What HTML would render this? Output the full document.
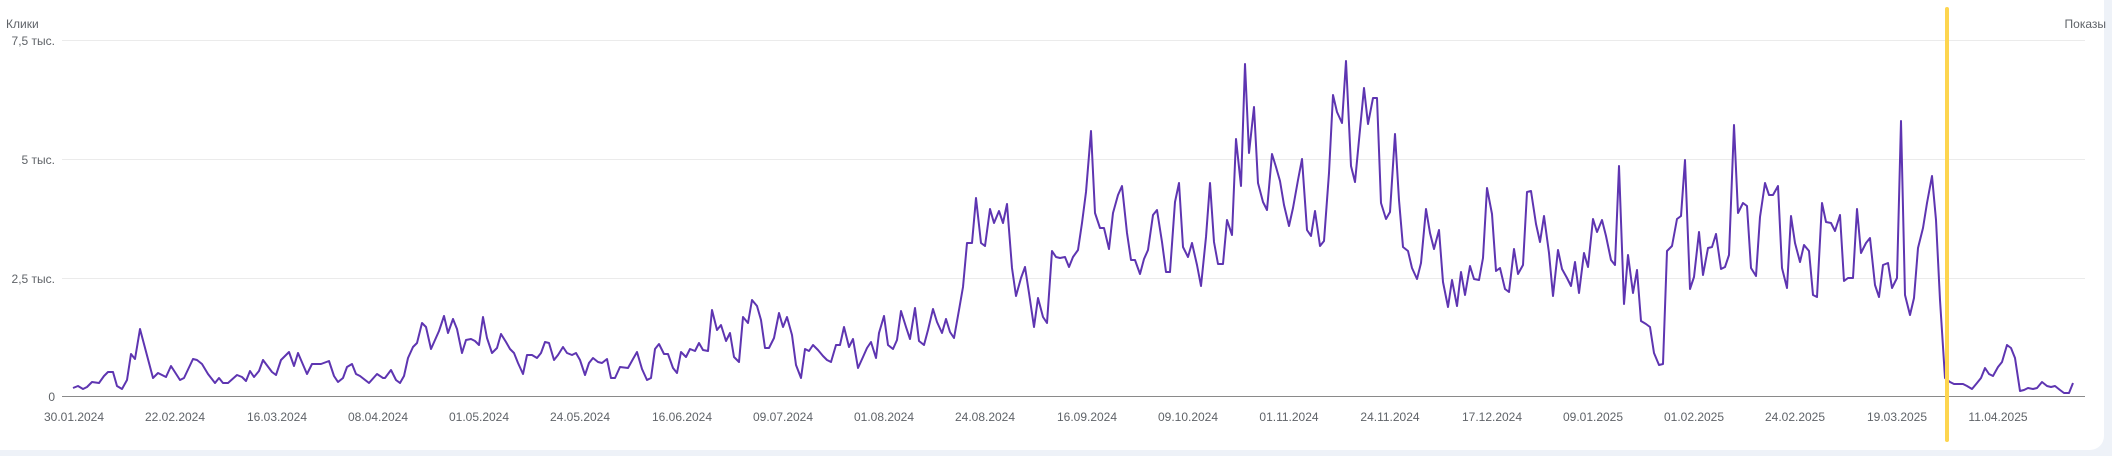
<!DOCTYPE html>
<html><head><meta charset="utf-8"><style>
html,body{margin:0;padding:0;width:2112px;height:456px;overflow:hidden;background:#eef2f8;}
.card{position:absolute;left:0;top:0;width:2104px;height:450px;background:#fff;border-radius:0 0 14px 0;}
svg{position:absolute;left:0;top:0;}
text{font-family:"Liberation Sans",sans-serif;font-size:12px;fill:#5f6368;}
</style></head><body>
<div class="card"></div>
<svg width="2112" height="456" viewBox="0 0 2112 456">
<g stroke="#ebebeb" stroke-width="1">
<line x1="62" x2="2085" y1="40.5" y2="40.5"/>
<line x1="62" x2="2085" y1="159.5" y2="159.5"/>
<line x1="62" x2="2085" y1="278.5" y2="278.5"/>
</g>
<line x1="62" x2="2085" y1="396.5" y2="396.5" stroke="#8a8a8a" stroke-width="1"/>
<text x="6" y="28">Клики</text>
<text x="2106" y="28" text-anchor="end">Показы</text>
<g text-anchor="end">
<text x="55" y="45">7,5 тыс.</text>
<text x="55" y="164">5 тыс.</text>
<text x="55" y="283">2,5 тыс.</text>
<text x="55" y="401">0</text>
</g>
<g text-anchor="middle">
<text x="74" y="421">30.01.2024</text>
<text x="175" y="421">22.02.2024</text>
<text x="277" y="421">16.03.2024</text>
<text x="378" y="421">08.04.2024</text>
<text x="479" y="421">01.05.2024</text>
<text x="580" y="421">24.05.2024</text>
<text x="682" y="421">16.06.2024</text>
<text x="783" y="421">09.07.2024</text>
<text x="884" y="421">01.08.2024</text>
<text x="985" y="421">24.08.2024</text>
<text x="1087" y="421">16.09.2024</text>
<text x="1188" y="421">09.10.2024</text>
<text x="1289" y="421">01.11.2024</text>
<text x="1390" y="421">24.11.2024</text>
<text x="1492" y="421">17.12.2024</text>
<text x="1593" y="421">09.01.2025</text>
<text x="1694" y="421">01.02.2025</text>
<text x="1795" y="421">24.02.2025</text>
<text x="1897" y="421">19.03.2025</text>
<text x="1998" y="421">11.04.2025</text>
</g>
<polyline fill="none" stroke="#5e35b1" stroke-width="2" stroke-linejoin="round" points="
73,388 78,386 83,389 87,387 92,382 99,383 104,376 108,372 113,372 117,386 122,389 127,380 131,354 135,359 140,329 153,378 158,373 166,377 171,366 180,380 184,378 193,359 197,360 202,364 208,374 215,383 219,378 223,383 228,383 237,375 242,377 246,381 250,371 254,377 259,371 263,360 272,372 276,375 281,360 289,352 294,366 298,353 307,374 312,364 321,364 329,361 334,376 338,382 343,378 347,367 352,364 356,374 360,376 369,383 377,374 383,378
385,378 391,370 396,380 400,383 404,376 408,358 413,347 417,343 422,323 426,327 431,349 435,340 439,331 444,316 448,333 453,319 457,329 462,353 466,340 471,339 475,341 479,345 483,317 487,338 492,353 497,348 501,334 506,342 510,349 514,353 518,363 523,374 527,355 532,355 537,358 541,353 545,342 549,343 554,360 558,355 563,347 567,353 572,355 576,353 580,360 585,375 589,363 593,358 598,362 602,363 607,359 611,378 615,378 620,367 628,368 633,359 637,352 642,369 647,380 651,378 655,349 659,344 664,354 668,354 673,368 677,373 681,352 686,357 690,349 695,351 699,343 703,350 708,351 712,310 717,330 721,325 726,341 730,333 734,357 739,362 743,317 748,323 752,300 757,306 761,320 765,348 769,348 774,338 779,313
783,327 787,317 792,335 796,365 801,378 805,349 809,351 813,345 818,350 823,356 827,360 831,362 836,345 840,345 844,327 849,347 853,339 858,368 863,357 867,348 871,342 876,358 879,333 884,316 888,345 893,349 897,340 901,311 906,327 910,339 915,308 919,341 924,345 928,330 933,309 937,322 942,333 946,319 950,332 954,338 959,310 963,287 967,243 972,243 976,198 981,243 985,246 990,209 994,223 999,211 1003,223 1007,204 1012,268 1016,296 1021,278 1025,267 1029,293 1034,327 1038,298 1043,317 1047,323 1052,251 1056,257 1060,258 1065,257 1069,267 1073,257 1078,250 1082,223 1086,192 1091,131 1095,213 1100,228 1104,228 1109,249 1113,213 1118,195 1122,186 1127,233 1131,260 1135,260 1140,274 1144,259 1148,250 1153,215 1157,210 1162,242 1166,272 1170,272 1175,202 1179,183
1183,247 1188,257 1192,243 1197,265 1201,286 1206,237 1210,183 1214,242 1218,264 1223,264 1227,220 1232,235 1236,139 1241,186 1245,64 1249,153 1254,107 1258,183 1263,202 1267,210 1272,154 1276,167 1280,181 1284,205 1289,226 1293,208 1298,180 1302,159 1307,230 1311,236 1315,211 1320,246 1324,241 1329,173 1333,95 1337,112 1342,123 1346,61 1351,166 1355,182 1359,140 1364,88 1368,124 1373,98 1377,98 1381,203 1386,219 1390,212 1395,134 1399,200 1403,247 1408,251 1412,268 1417,279 1421,263 1426,209 1430,233 1434,249 1439,230 1443,282 1448,307 1452,280 1457,306 1461,272 1465,295 1470,266 1474,279 1479,280 1483,258 1487,188 1492,214 1496,271 1500,268 1505,289 1509,292 1514,249 1518,274 1523,265 1527,192 1531,191 1536,224 1540,242 1544,216 1549,253 1553,296 1558,250 1562,269 1567,278 1571,286 1575,262 1579,293
1584,253 1588,267 1593,219 1597,232 1602,220 1606,236 1611,260 1615,265 1619,166 1624,304 1628,255 1633,293 1637,270 1641,321 1646,324 1650,327 1654,353 1659,365 1663,364 1667,251 1672,246 1677,219 1681,216 1685,160 1690,289 1694,277 1699,232 1703,275 1708,248 1712,247 1716,234 1721,269 1725,267 1729,255 1734,125 1738,213 1743,203 1747,206 1751,268 1756,276 1760,217 1765,183 1769,195 1773,195 1778,186 1782,268 1787,288 1791,216 1795,243 1800,262 1804,245 1809,251 1813,295 1817,297 1822,203 1826,222 1831,223 1835,231 1840,215 1844,281 1848,278 1853,278 1857,209 1861,253 1866,243 1870,238 1875,285 1879,297 1883,265 1888,263 1892,288 1897,278 1901,121 1905,295 1910,315 1914,298 1918,248 1923,228 1927,203 1932,176 1936,220 1940,300 1945,378
1950,382 1954,384 1963,384 1967,386 1972,389 1977,383 1981,378 1985,368 1989,374 1993,376 1998,367 2002,362 2007,345 2011,348 2015,358 2020,391 2024,390 2028,388 2033,389 2037,388 2042,382 2047,386 2051,387 2055,386 2060,390 2064,393 2069,393 2073,383"/>
<line x1="1947" x2="1947" y1="9" y2="440" stroke="#fdd54f" stroke-width="4" stroke-linecap="round"/>
</svg>
</body></html>
